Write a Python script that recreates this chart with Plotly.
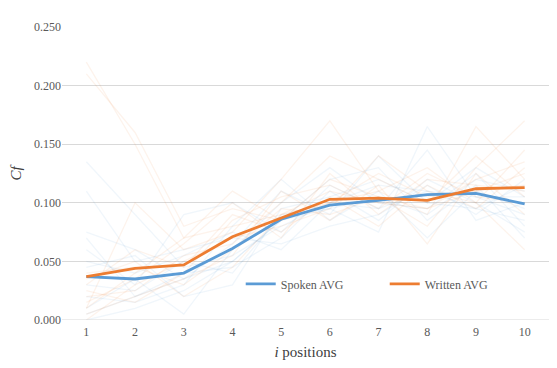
import plotly.graph_objects as go

positions = ["1", "2", "3", "4", "5", "6", "7", "8", "9", "10"]

spoken_avg = [0.037, 0.035, 0.040, 0.061, 0.086, 0.098, 0.102, 0.107, 0.108, 0.099]
written_avg = [0.037, 0.044, 0.047, 0.071, 0.087, 0.103, 0.104, 0.102, 0.112, 0.113]

spoken_items = [
    [0.135, 0.090, 0.045, 0.055, 0.080, 0.100, 0.095, 0.110, 0.105, 0.090],
    [0.000, 0.010, 0.025, 0.050, 0.085, 0.095, 0.105, 0.090, 0.120, 0.110],
    [0.075, 0.060, 0.035, 0.065, 0.110, 0.090, 0.140, 0.100, 0.095, 0.085],
    [0.005, 0.020, 0.040, 0.045, 0.070, 0.110, 0.085, 0.120, 0.100, 0.075],
    [0.060, 0.030, 0.090, 0.100, 0.075, 0.115, 0.095, 0.145, 0.085, 0.100],
    [0.020, 0.015, 0.030, 0.080, 0.120, 0.085, 0.110, 0.070, 0.110, 0.095],
    [0.045, 0.055, 0.020, 0.030, 0.095, 0.105, 0.120, 0.100, 0.130, 0.105],
    [0.110, 0.050, 0.060, 0.070, 0.065, 0.080, 0.090, 0.115, 0.090, 0.120],
    [0.010, 0.035, 0.005, 0.060, 0.100, 0.130, 0.100, 0.095, 0.125, 0.080],
    [0.030, 0.025, 0.050, 0.040, 0.090, 0.095, 0.075, 0.165, 0.105, 0.105],
    [0.050, 0.040, 0.055, 0.075, 0.060, 0.100, 0.115, 0.110, 0.095, 0.115],
    [0.070, 0.020, 0.035, 0.050, 0.085, 0.120, 0.130, 0.085, 0.115, 0.070],
]

written_items = [
    [0.220, 0.150, 0.070, 0.080, 0.090, 0.110, 0.100, 0.095, 0.120, 0.135],
    [0.210, 0.160, 0.080, 0.095, 0.085, 0.100, 0.125, 0.105, 0.110, 0.125],
    [0.010, 0.100, 0.060, 0.075, 0.120, 0.170, 0.110, 0.090, 0.165, 0.120],
    [0.000, 0.030, 0.050, 0.070, 0.080, 0.095, 0.140, 0.110, 0.100, 0.145],
    [0.025, 0.015, 0.040, 0.085, 0.105, 0.115, 0.095, 0.125, 0.105, 0.100],
    [0.040, 0.045, 0.030, 0.060, 0.095, 0.090, 0.105, 0.080, 0.130, 0.170],
    [0.015, 0.035, 0.065, 0.100, 0.070, 0.125, 0.090, 0.120, 0.115, 0.110],
    [0.005, 0.020, 0.035, 0.055, 0.110, 0.085, 0.115, 0.065, 0.125, 0.090],
    [0.030, 0.060, 0.045, 0.090, 0.075, 0.105, 0.080, 0.115, 0.095, 0.130],
    [0.020, 0.025, 0.055, 0.065, 0.100, 0.140, 0.120, 0.100, 0.140, 0.105],
    [0.035, 0.050, 0.020, 0.045, 0.090, 0.100, 0.110, 0.130, 0.100, 0.060],
    [0.010, 0.040, 0.070, 0.110, 0.085, 0.120, 0.105, 0.095, 0.110, 0.115],
]

y_ticks = [0.0, 0.05, 0.10, 0.15, 0.20, 0.25]

FONT = "Liberation Serif, Times New Roman, serif"

fig = go.Figure()
for s in spoken_items:
    fig.add_trace(go.Scatter(x=positions, y=s, mode="lines", showlegend=False,
                             hoverinfo="skip",
                             line=dict(color="rgba(91,155,213,0.09)", width=1.3)))
for w in written_items:
    fig.add_trace(go.Scatter(x=positions, y=w, mode="lines", showlegend=False,
                             hoverinfo="skip",
                             line=dict(color="rgba(237,125,49,0.09)", width=1.3)))

fig.add_trace(go.Scatter(x=positions, y=spoken_avg, mode="lines", name="Spoken AVG",
                         line=dict(color="#5b9bd5", width=2.8)))
fig.add_trace(go.Scatter(x=positions, y=written_avg, mode="lines", name="Written AVG",
                         line=dict(color="#ed7d31", width=2.8)))

fig.update_layout(
    template="none",
    width=541, height=352,
    margin=dict(l=54, r=0, t=19, b=40, autoexpand=False),
    paper_bgcolor="white", plot_bgcolor="white",
    font=dict(family=FONT, size=12, color="#595959"),
    legend=dict(orientation="h", x=0.367, y=0.123, xanchor="left", yanchor="middle",
                bgcolor="rgba(0,0,0,0)", font=dict(family=FONT, size=12, color="#595959"),
                entrywidth=99, entrywidthmode="pixels", itemwidth=30),
    xaxis=dict(type="category", range=[-0.5, 9.5], showgrid=False, showline=False,
               ticks="", zeroline=False, automargin=False, ticklabelstandoff=3,
               tickfont=dict(family=FONT, size=12, color="#595959"),
               title=dict(text="<i>i</i> positions", font=dict(family=FONT, size=15, color="#404040"),
                          standoff=9)),
    yaxis=dict(range=[0, 0.25], tickvals=y_ticks, tickformat=".3f",
               showgrid=True, gridcolor="#d9d9d9", gridwidth=1, zeroline=False,
               showline=False, ticks="", automargin=False,
               tickfont=dict(family=FONT, size=12, color="#595959"),
               title=dict(text="<i>Cf</i>", font=dict(family=FONT, size=15, color="#404040"),
                          standoff=19)),
)
fig.add_shape(type="line", xref="paper", yref="y", x0=0, x1=1, y0=0, y1=0,
              line=dict(color="#d9d9d9", width=1))

fig.write_html("out.html")
